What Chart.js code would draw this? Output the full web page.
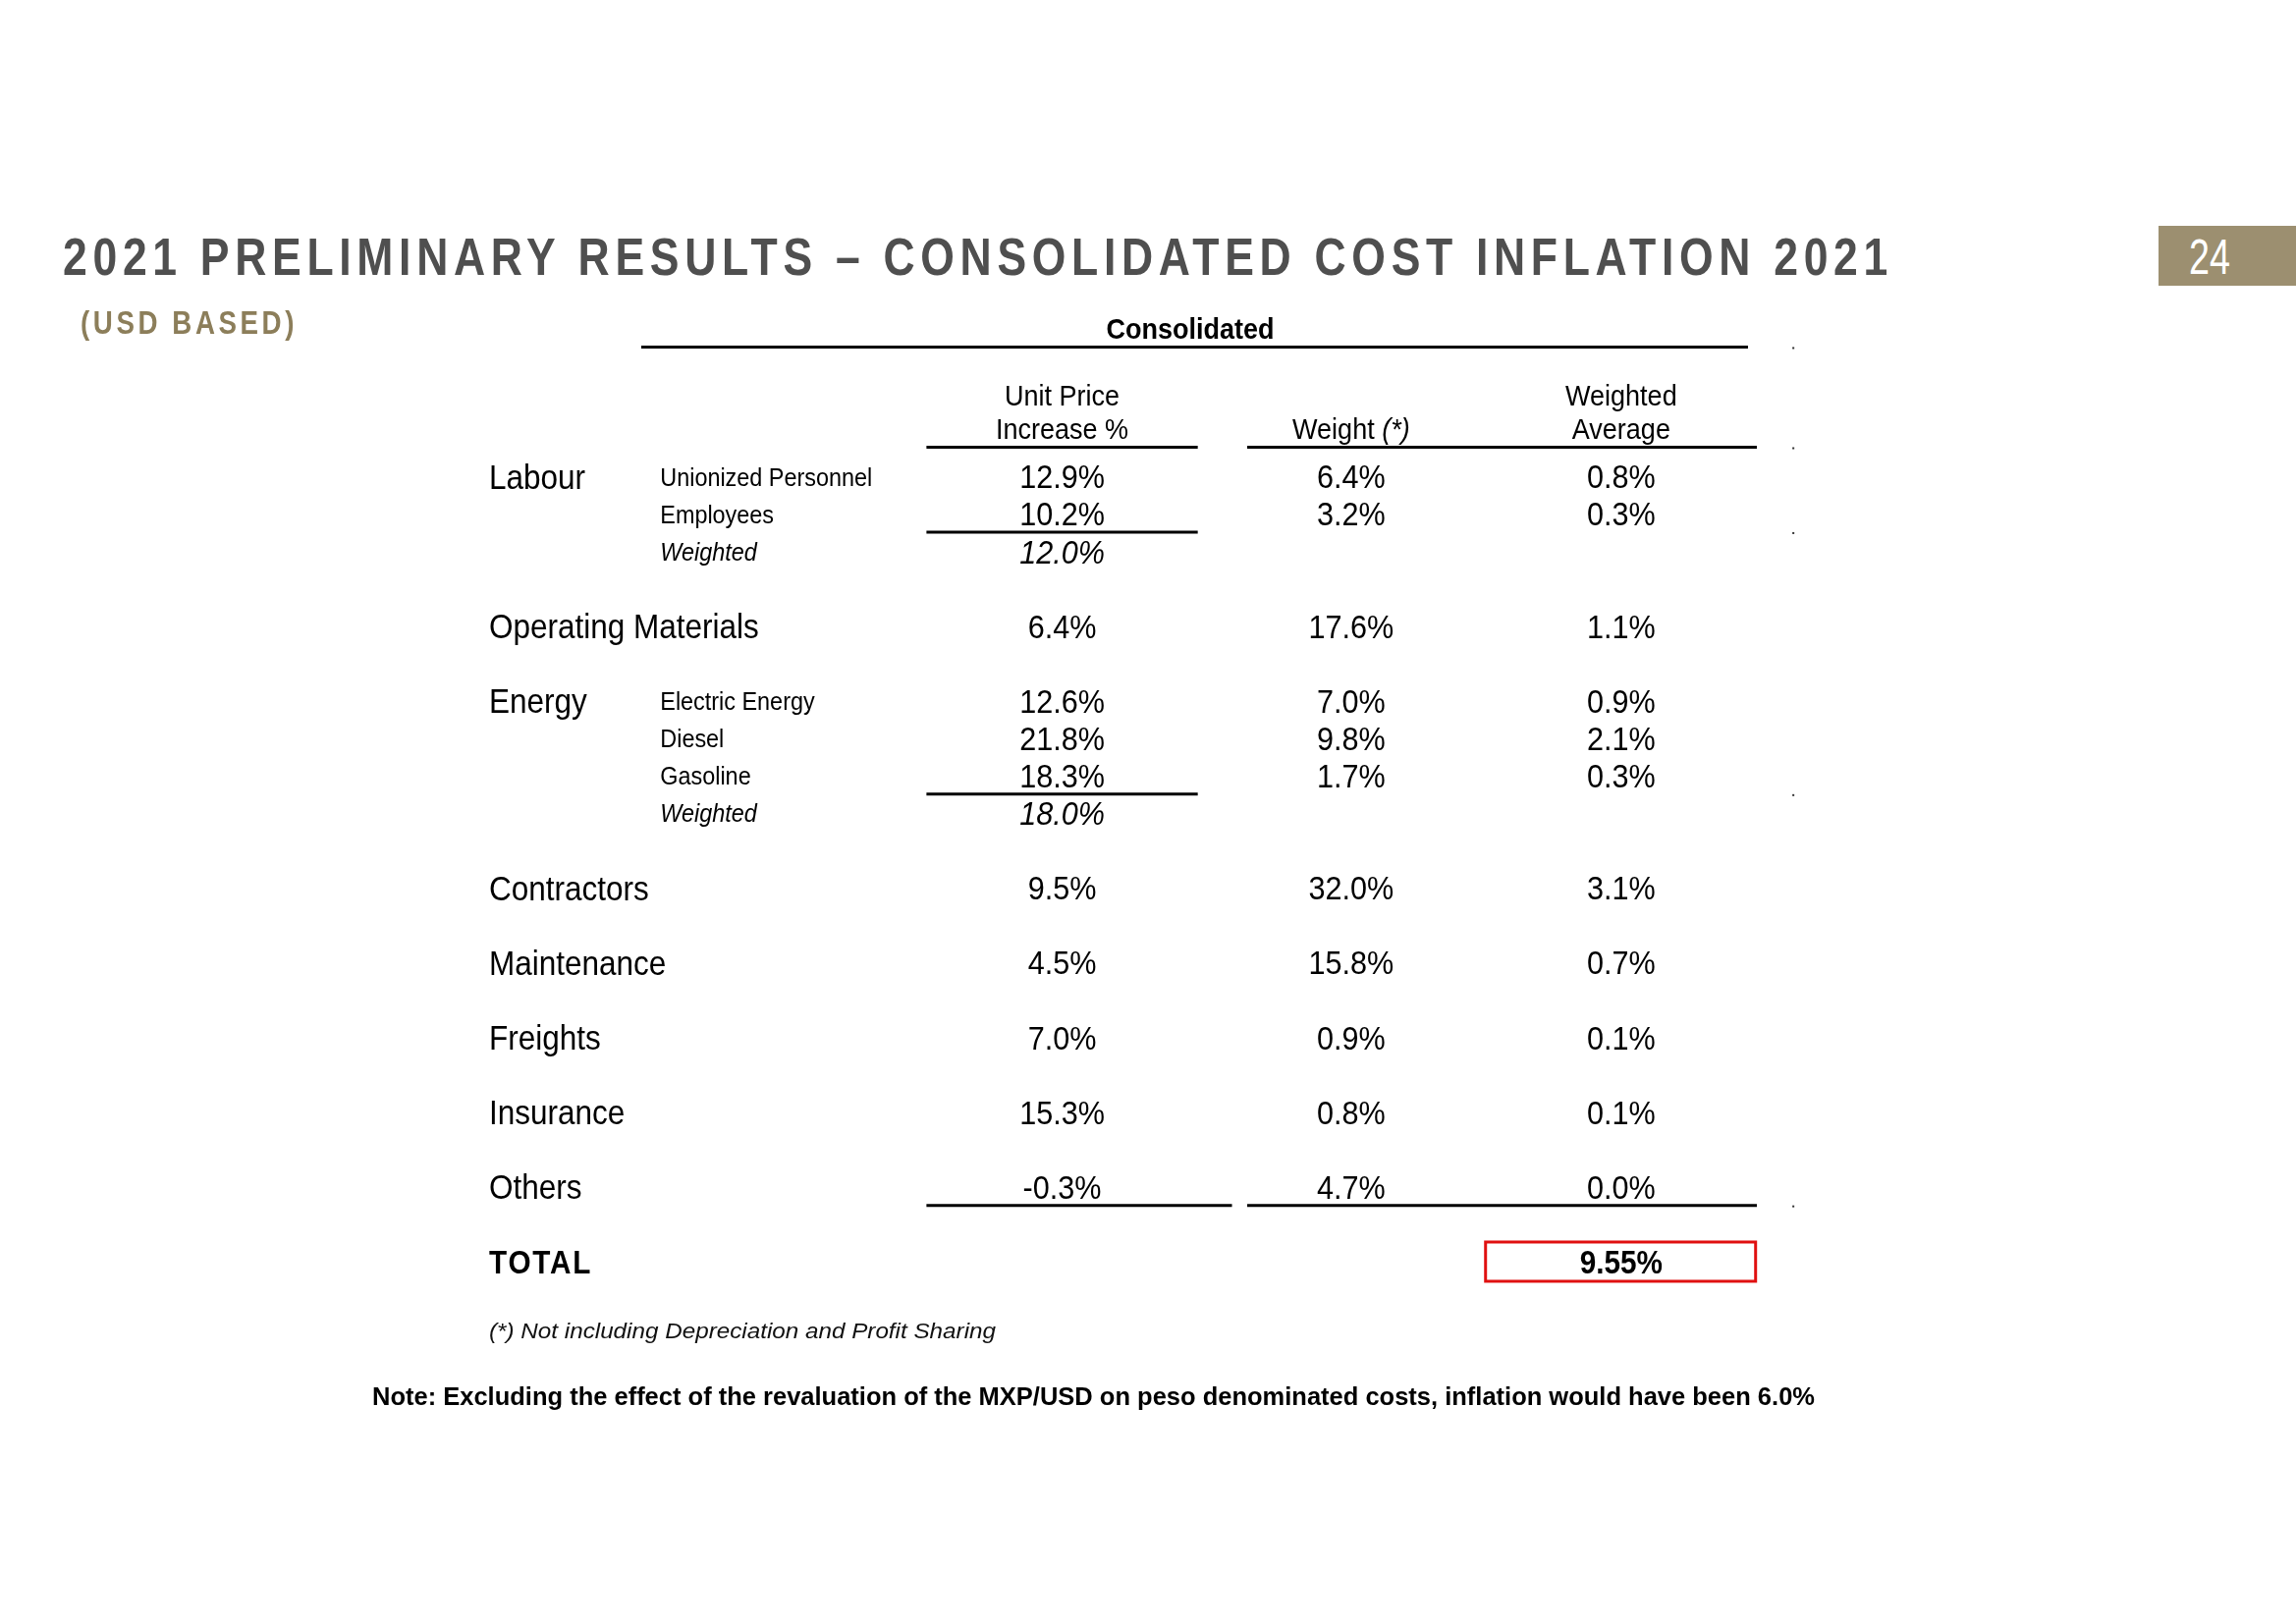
<!DOCTYPE html>
<html lang="en">
<head>
<meta charset="utf-8">
<title>2021 Preliminary Results - Consolidated Cost Inflation 2021</title>
<script src="https://cdn.jsdelivr.net/npm/chart.js@4.4.1/dist/chart.umd.min.js"></script>
<style>
  body { margin: 0; background: #fff; width: 2338px; height: 1653px; position: relative; overflow: hidden;
         font-family: "Liberation Sans", Arial, sans-serif; }
  #chart { position: absolute; left: 0; top: 0; }
  .txt { position: absolute; white-space: nowrap; line-height: 1; transform-origin: 0 0; }
  .title { left: 64px; top: 235px; font-size: 53px; font-weight: bold; color: #4f4f4f; }
  .sub { left: 82px; top: 312px; font-size: 33px; font-weight: bold; color: #8c7e5a; }
  .pagebox { position: absolute; left: 2198px; top: 230px; width: 140px; height: 61px; background: #9c8f70; }
  .page { left: 2229px; top: 237px; font-size: 50px; color: #fff; }
  .foot { left: 498px; top: 1345px; font-size: 22px; font-style: italic; color: #111; }
  .note { left: 379px; top: 1410px; font-size: 25px; font-weight: bold; color: #000; }
</style>
</head>
<body>
<canvas id="chart" width="2338" height="1653"></canvas>

<div class="txt title fit" data-w="1864" data-sx="0.84" data-ls="1">2021 PRELIMINARY RESULTS – CONSOLIDATED COST INFLATION 2021</div>
<div class="txt sub fit" data-w="221" data-sx="0.84" data-ls="1">(USD BASED)</div>
<div class="pagebox"></div>
<div class="txt page fit" data-w="42">24</div>
<div class="txt foot fit" data-w="516">(*) Not including Depreciation and Profit Sharing</div>
<div class="txt note fit" data-w="1469">Note: Excluding the effect of the revaluation of the MXP/USD on peso denominated costs, inflation would have been 6.0%</div>

<script>
// table data
const rowLabels   = ['Labour', '', '', 'Operating Materials', 'Energy', '', '', '', 'Contractors', 'Maintenance', 'Freights', 'Insurance', 'Others'];
const subLabels   = ['Unionized Personnel', 'Employees', 'Weighted', '', 'Electric Energy', 'Diesel', 'Gasoline', 'Weighted', '', '', '', '', ''];
const unitPrice   = [12.9, 10.2, 12.0, 6.4, 12.6, 21.8, 18.3, 18.0, 9.5, 4.5, 7.0, 15.3, -0.3];
const weight      = [6.4, 3.2, null, 17.6, 7.0, 9.8, 1.7, null, 32.0, 15.8, 0.9, 0.8, 4.7];
const weightedAvg = [0.8, 0.3, null, 1.1, 0.9, 2.1, 0.3, null, 3.1, 0.7, 0.1, 0.1, 0.0];
const totalLabel  = 'TOTAL';
const totalValue  = 9.55;
const groupTitle  = 'Consolidated';
const colHeaders  = [['Unit Price', 'Increase %'], ['', 'Weight ', '(*)'], ['Weighted', 'Average']];

// layout (x in 0..100 across the table, y in row slots)
const COL = { label: 0, sub: 13.5, price: 45.2, weight: 68.0, avg: 89.3 };
const SX = 0.9; // horizontal squeeze to mimic the narrow face

let slot = -1;
const rowY = rowLabels.map((lab, i) => { slot += (lab && i > 0) ? 2 : 1; return slot; });
const totalY = slot + 2;
const pct = (v, d) => v.toFixed(d) + '%';
const isWeighted = i => subLabels[i] === 'Weighted';

function textCells(col, texts, style) {
  const pts = [], cells = [];
  texts.forEach((t, i) => {
    if (t === null || t === '') return;
    pts.push({ x: col, y: rowY[i] });
    cells.push({ t, italic: style.italicWeighted && isWeighted(i) });
  });
  return { data: pts, cells, align: style.align, size: style.size, pointRadius: 0, pointHoverRadius: 0 };
}

const datasets = [
  textCells(COL.label, rowLabels, { align: 'left', size: 35 }),
  textCells(COL.sub, subLabels, { align: 'left', size: 26, italicWeighted: true }),
  textCells(COL.price, unitPrice.map(v => pct(v, 1)), { align: 'center', size: 34, italicWeighted: true }),
  textCells(COL.weight, weight.map(v => v === null ? null : pct(v, 1)), { align: 'center', size: 34 }),
  textCells(COL.avg, weightedAvg.map(v => v === null ? null : pct(v, 1)), { align: 'center', size: 34 }),
  { data: [{ x: COL.label, y: totalY }, { x: COL.avg, y: totalY }],
    cells: [{ t: totalLabel, bold: true, align: 'left', spacing: 2 }, { t: pct(totalValue, 2), bold: true }],
    align: 'center', size: 33, pointRadius: 0, pointHoverRadius: 0 }
];

function setFont(ctx, size, o) {
  ctx.font = (o.italic ? 'italic ' : '') + (o.bold ? 'bold ' : '') + size + 'px "Liberation Sans", Arial, sans-serif';
  ctx.letterSpacing = (o.spacing || 0) + 'px';
}

function drawText(ctx, s, x, y, size, o) {
  o = o || {};
  ctx.save();
  setFont(ctx, size, o);
  ctx.fillStyle = o.color || '#000';
  ctx.textBaseline = 'alphabetic';
  const w = ctx.measureText(s).width * SX;
  const x0 = o.align === 'center' ? x - w / 2 : x;
  ctx.translate(x0, y + size * 0.325);
  ctx.scale(SX, 1);
  ctx.fillText(s, 0, 0);
  ctx.restore();
  return w;
}

const tablePlugin = {
  id: 'tableText',
  afterDatasetsDraw(chart) {
    const ctx = chart.ctx, xs = chart.scales.x, ys = chart.scales.y;
    const X = v => xs.getPixelForValue(v), Y = v => ys.getPixelForValue(v);

    chart.data.datasets.forEach((ds, i) => {
      chart.getDatasetMeta(i).data.forEach((pt, j) => {
        const c = ds.cells[j];
        drawText(ctx, c.t, pt.x, pt.y, ds.size, { italic: c.italic, bold: c.bold, spacing: c.spacing, align: c.align || ds.align });
      });
    });

    // headers
    drawText(ctx, groupTitle, X(55.3), Y(-3.97), 30, { bold: true, align: 'center' });
    drawText(ctx, colHeaders[0][0], X(COL.price), Y(-2.18), 30, { align: 'center' });
    drawText(ctx, colHeaders[0][1], X(COL.price), Y(-1.29), 30, { align: 'center' });
    drawText(ctx, colHeaders[2][0], X(COL.avg), Y(-2.18), 30, { align: 'center' });
    drawText(ctx, colHeaders[2][1], X(COL.avg), Y(-1.29), 30, { align: 'center' });
    // "Weight (*)" with the note mark in italics
    ctx.save();
    setFont(ctx, 30, {});
    const w1 = ctx.measureText(colHeaders[1][1]).width * SX;
    setFont(ctx, 30, { italic: true });
    const w2 = ctx.measureText(colHeaders[1][2]).width * SX;
    ctx.restore();
    const wx = X(COL.weight) - (w1 + w2) / 2;
    drawText(ctx, colHeaders[1][1], wx, Y(-1.29), 30, {});
    drawText(ctx, colHeaders[1][2], wx + w1, Y(-1.29), 30, { italic: true });

    // rules
    const rule = (x1, x2, y, lw) => {
      ctx.save();
      ctx.strokeStyle = '#000';
      ctx.lineWidth = lw || 3;
      ctx.beginPath();
      ctx.moveTo(X(x1), Y(y));
      ctx.lineTo(X(x2), Y(y));
      ctx.stroke();
      ctx.restore();
    };
    rule(12.0, 99.3, -3.49, 3);
    rule(34.5, 55.9, -0.81); rule(59.8, 100, -0.81);
    rule(34.5, 55.9, rowY[1] + 0.46);
    rule(34.5, 55.9, rowY[6] + 0.47);
    rule(34.5, 58.6, rowY[12] + 0.47); rule(59.8, 100, rowY[12] + 0.47);

    // small tick marks at the right margin
    ctx.fillStyle = '#333';
    [-3.49, -0.81, rowY[1] + 0.46, rowY[6] + 0.47, rowY[12] + 0.47].forEach(y => ctx.fillRect(X(102.8), Y(y), 2, 2));

    // total box
    ctx.save();
    ctx.strokeStyle = '#e01010';
    ctx.lineWidth = 3;
    const bx1 = X(78.6), bx2 = X(99.9), by1 = Y(totalY - 0.55), by2 = Y(totalY + 0.5);
    ctx.strokeRect(bx1, by1, bx2 - bx1, by2 - by1);
    ctx.restore();
  }
};

new Chart(document.getElementById('chart'), {
  type: 'scatter',
  data: { datasets },
  options: {
    responsive: false,
    devicePixelRatio: 1,
    animation: false,
    events: [],
    layout: { padding: { left: 498, right: 549, top: 315, bottom: 329 } },
    plugins: { legend: { display: false }, tooltip: { enabled: false } },
    scales: {
      x: { type: 'linear', min: 0, max: 100, display: false },
      y: { type: 'linear', min: -4.5, max: 22, reverse: true, display: false }
    }
  },
  plugins: [tablePlugin]
});

// fit the html headings to their widths in the slide
document.querySelectorAll('.fit').forEach(el => {
  const target = +el.dataset.w;
  const w0 = el.getBoundingClientRect().width;
  if (el.dataset.ls) {
    const sx = +el.dataset.sx;
    el.style.letterSpacing = ((target / sx - w0) / el.textContent.length) + 'px';
    el.style.transform = 'scaleX(' + sx + ')';
  } else {
    el.style.transform = 'scaleX(' + (target / w0) + ')';
  }
});
</script>
</body>
</html>
